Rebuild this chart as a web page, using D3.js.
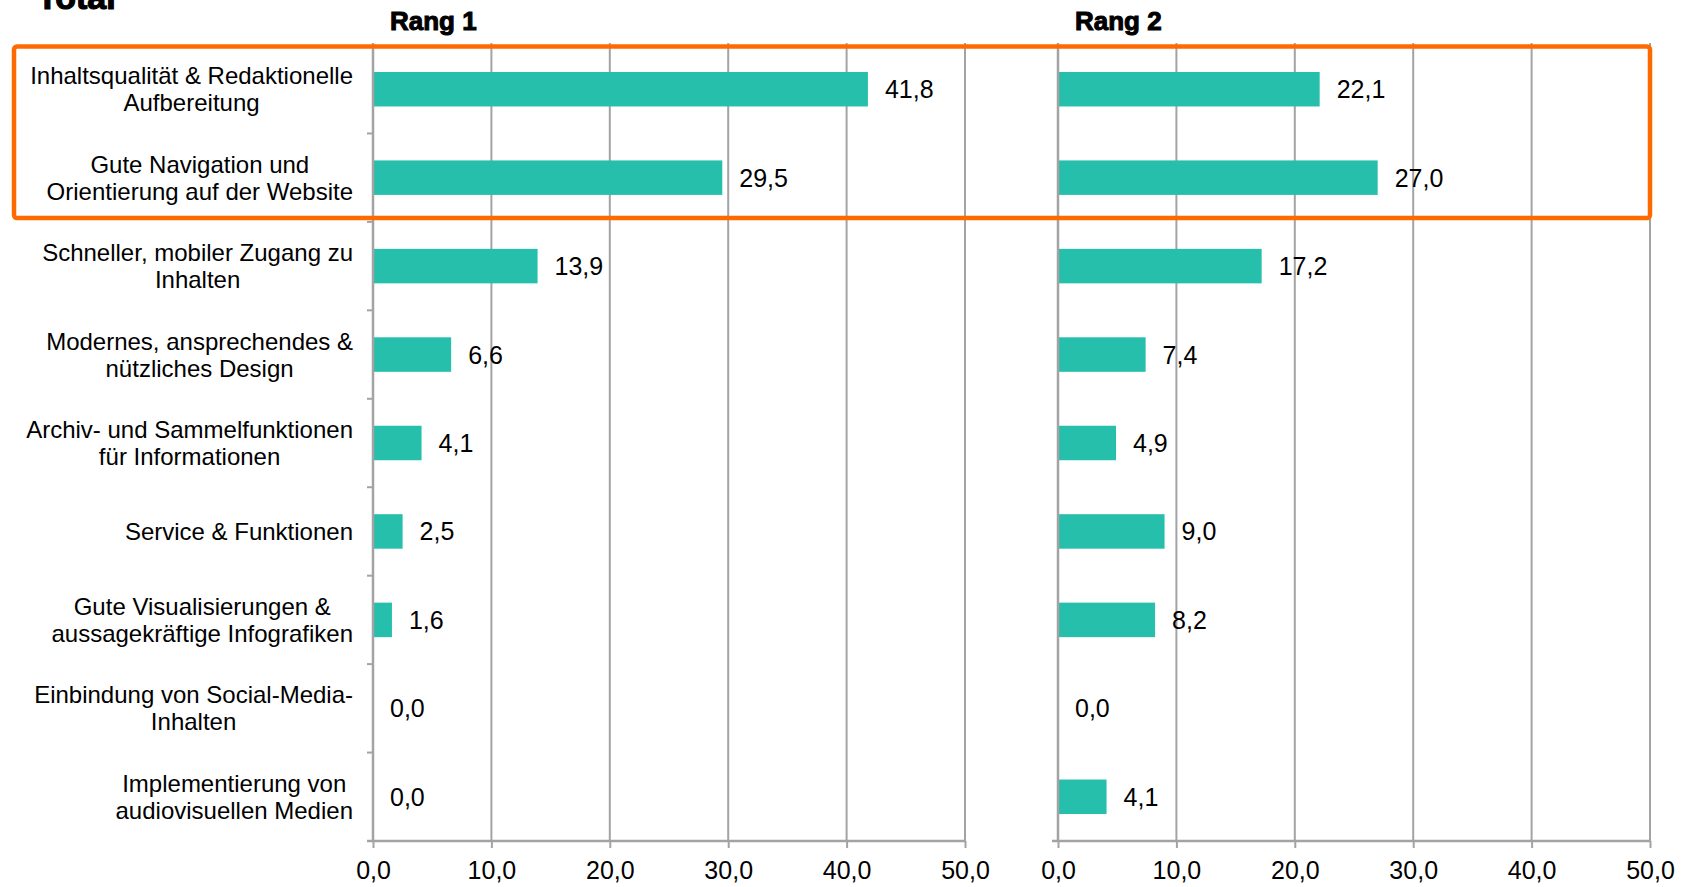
<!DOCTYPE html>
<html>
<head>
<meta charset="utf-8">
<script src="https://cdn.jsdelivr.net/npm/d3@7"></script>
<style>
  html, body { margin: 0; padding: 0; background: #ffffff; }
  svg { display: block; font-family: "Liberation Sans", Arial, Helvetica, sans-serif; }
</style>
</head>
<body>
<svg id="chart" width="1683" height="887"></svg>
<script>
// ---- data ----
const categories = [
  "Inhaltsqualität & Redaktionelle\nAufbereitung",
  "Gute Navigation und\nOrientierung auf der Website",
  "Schneller, mobiler Zugang zu\nInhalten",
  "Modernes, ansprechendes &\nnützliches Design",
  "Archiv- und Sammelfunktionen\nfür Informationen",
  "Service & Funktionen",
  "Gute Visualisierungen &\naussagekräftige Infografiken",
  "Einbindung von Social-Media-\nInhalten",
  "Implementierung von\naudiovisuellen Medien"
];
const rang1 = [41.8, 29.5, 13.9, 6.6, 4.1, 2.5, 1.6, 0.0, 0.0];
const rang2 = [22.1, 27.0, 17.2, 7.4, 4.9, 9.0, 8.2, 0.0, 4.1];
const panelTitles = ["Rang 1", "Rang 2"];
const chartTitle = "Total";
const xTicks = [0, 10, 20, 30, 40, 50];
const highlighted = [0, 1];

// ---- layout ----
const svg = d3.select("#chart");
const plotTop = 45, plotBottom = 841;
const panels = [
  { x0: 373, x1: 965, values: rang1, title: panelTitles[0], catTicks: true },
  { x0: 1058, x1: 1650, values: rang2, title: panelTitles[1], catTicks: false }
];
const barColor = "#26bfab";
const gridColor = "#a3a3a3";
const fmt = v => d3.format(".1f")(v).replace(".", ",");

const y = d3.scaleBand().domain(d3.range(categories.length)).range([plotTop, plotBottom]).paddingInner(0).paddingOuter(0);
const barH = y.bandwidth() * 0.39;

// chart title (cut off at top, as in the original)
svg.append("text").attr("x", 37).attr("y", 9)
  .attr("font-size", 34).attr("font-weight", "bold")
  .attr("stroke", "#000").attr("stroke-width", 1.2)
  .text(chartTitle);

panels.forEach(p => {
  const x = d3.scaleLinear().domain([0, 50]).range([p.x0, p.x1]);
  const g = svg.append("g");

  // gridlines
  g.selectAll("line.grid").data(xTicks.slice(1)).join("line")
    .attr("x1", d => x(d)).attr("x2", d => x(d))
    .attr("y1", plotTop - 2).attr("y2", plotBottom)
    .attr("stroke", gridColor).attr("stroke-width", 2);

  // bars
  g.selectAll("rect.bar").data(p.values).join("rect")
    .attr("x", x(0))
    .attr("y", (d, i) => y(i) + (y.bandwidth() - barH) / 2)
    .attr("width", d => x(d) - x(0))
    .attr("height", barH)
    .attr("fill", barColor);

  // value labels
  g.selectAll("text.val").data(p.values).join("text")
    .attr("x", d => x(d) + 17)
    .attr("y", (d, i) => y(i) + y.bandwidth() / 2)
    .attr("dy", "0.36em")
    .attr("font-size", 25)
    .attr("fill", "#000")
    .text(d => fmt(d));

  // vertical axis line
  g.append("line").attr("x1", x(0)).attr("x2", x(0))
    .attr("y1", plotTop - 2).attr("y2", plotBottom)
    .attr("stroke", gridColor).attr("stroke-width", 2.5);

  if (p.catTicks) {
    g.selectAll("line.ct").data(d3.range(1, categories.length)).join("line")
      .attr("x1", x(0) - 6).attr("x2", x(0))
      .attr("y1", d => y(d)).attr("y2", d => y(d))
      .attr("stroke", gridColor).attr("stroke-width", 2);
  }

  // bottom axis
  const axis = d3.axisBottom(x).tickValues(xTicks).tickSize(7).tickSizeOuter(0).tickFormat(fmt);
  const ag = svg.append("g").attr("transform", `translate(0,${plotBottom})`).call(axis);
  ag.select(".domain").attr("stroke", gridColor).attr("stroke-width", 2.5)
    .attr("d", `M${x(0) - 6},0H${x(50)}`);
  ag.selectAll(".tick line").attr("stroke", gridColor).attr("stroke-width", 2);
  ag.selectAll(".tick text").attr("font-size", 25).attr("fill", "#000")
    .attr("font-family", "'Liberation Sans', Arial, sans-serif").attr("y", 20).attr("dy", "0.71em");

  // panel title
  svg.append("text").attr("x", x(0) + 17).attr("y", 30)
    .attr("font-size", 26).attr("font-weight", "bold")
    .attr("stroke", "#000").attr("stroke-width", 1)
    .text(p.title);
});

// category labels
const labelRight = 353;
const lineH = 27;
categories.forEach((c, i) => {
  const lines = c.split("\n");
  const g = svg.append("g");
  const texts = lines.map((l, j) => g.append("text")
    .attr("font-size", 24).attr("fill", "#000")
    .attr("text-anchor", "middle")
    .attr("y", y(i) + y.bandwidth() / 2 + (j - (lines.length - 1) / 2) * lineH)
    .attr("dy", "0.36em")
    .text(l));
  const maxW = d3.max(texts, t => t.node().getComputedTextLength());
  texts.forEach(t => t.attr("x", labelRight - maxW / 2));
});

// highlight box
const hx = 14, hy = 46.5, hBottom = 218;
svg.append("rect")
  .attr("x", hx).attr("y", hy)
  .attr("width", 1650 - hx)
  .attr("height", hBottom - hy)
  .attr("rx", 3)
  .attr("fill", "none").attr("stroke", "#ff6a00").attr("stroke-width", 4.5);
</script>
</body>
</html>
